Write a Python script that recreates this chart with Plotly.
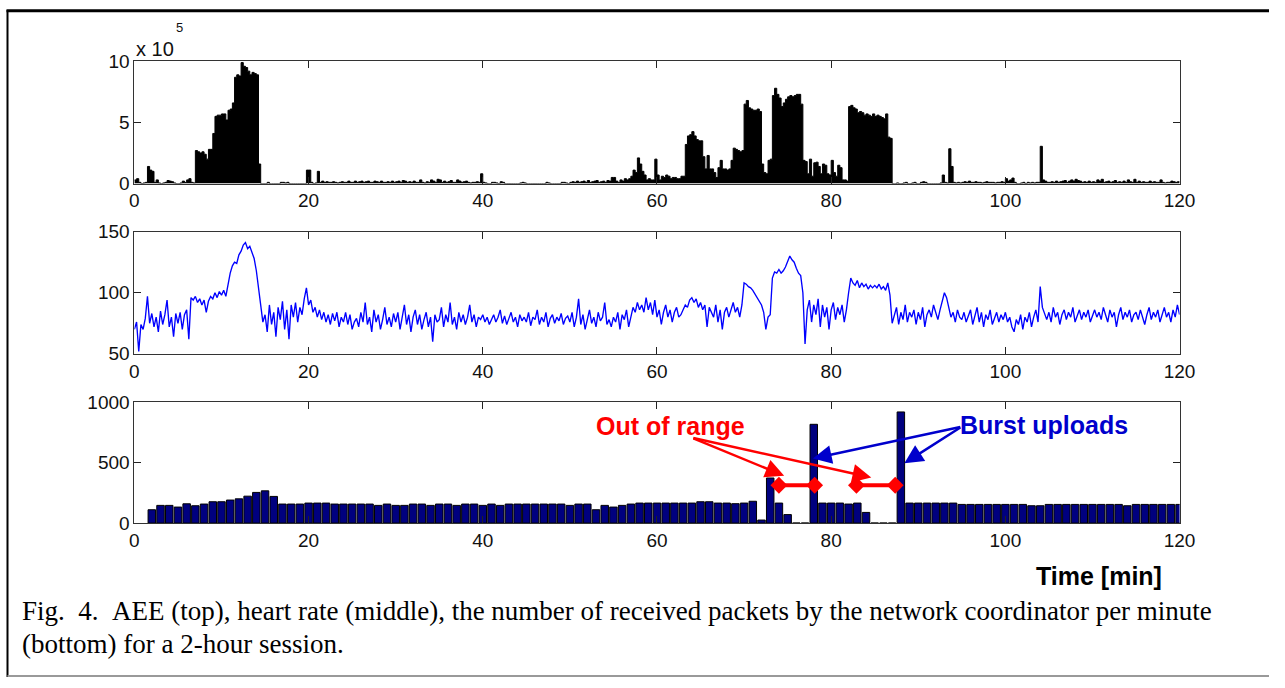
import plotly.graph_objects as go

# mapping from target picture pixels to paper fractions (calibrated from the rendered picture)
OX, OY, SW, SH = 4.5, 9.7, 1265.0, 666.0

def px(x):
    return (x - OX) / SW

def py(y):
    return 1 - (y - OY) / SH

# ---------------- data ----------------
# time grid for the 15-second samples (minutes)
time_q = [i * 0.25 for i in range(480)] + [120.0]

# AEE, in units of 1e5, one value per 15 s (5-minute rows)
aee_1e5 = [
    0.3, 0.4, 0.1, 0.0, 0.05, 0.1, 1.4, 1.1, 1.0, 0.1, 0.3, 0.05, 0.0, 0.05, 0.1, 0.25, 0.2, 0.15, 0.05, 0.0,
    0.0, 0.05, 0.2, 0.1, 0.3, 0.4, 0.1, 0.05, 2.7, 2.6, 2.5, 2.6, 2.4, 2.0, 2.8, 2.8, 4.1, 5.5, 5.6, 5.6,
    5.7, 5.7, 5.2, 6.0, 6.1, 6.6, 8.7, 8.9, 8.8, 9.9, 9.6, 9.5, 9.2, 8.9, 9.1, 9.0, 8.9, 1.6, 0.0, 0.0,
    0.0, 0.1, 0.0, 0.0, 0.0, 0.0, 0.0, 0.1, 0.1, 0.05, 0.1, 0.0, 0.0, 0.0, 0.0, 0.0, 0.0, 0.0, 0.0, 1.1,
    1.1, 0.1, 0.0, 0.05, 1.0, 0.1, 0.2, 0.1, 0.15, 0.1, 0.1, 0.15, 0.1, 0.05, 0.1, 0.15, 0.1, 0.1, 0.2, 0.1,
    0.1, 0.2, 0.1, 0.15, 0.2, 0.1, 0.15, 0.2, 0.1, 0.1, 0.2, 0.15, 0.1, 0.2, 0.1, 0.1, 0.15, 0.1, 0.2, 0.1,
    0.15, 0.2, 0.1, 0.25, 0.2, 0.1, 0.15, 0.1, 0.2, 0.1, 0.1, 0.3, 0.1, 0.05, 0.15, 0.1, 0.3, 0.2, 0.1, 0.35,
    0.3, 0.1, 0.2, 0.1, 0.15, 0.25, 0.1, 0.1, 0.3, 0.2, 0.1, 0.15, 0.2, 0.1, 0.05, 0.1, 0.1, 0.15, 0.1, 0.8,
    0.1, 0.05, 0.0, 0.0, 0.1, 0.1, 0.05, 0.0, 0.15, 0.1, 0.0, 0.0, 0.0, 0.0, 0.0, 0.0, 0.0, 0.05, 0.1, 0.05,
    0.0, 0.0, 0.0, 0.0, 0.0, 0.0, 0.0, 0.0, 0.0, 0.1, 0.05, 0.0, 0.0, 0.0, 0.0, 0.0, 0.1, 0.1, 0.05, 0.0,
    0.1, 0.15, 0.1, 0.2, 0.1, 0.15, 0.2, 0.1, 0.25, 0.1, 0.15, 0.2, 0.25, 0.1, 0.15, 0.2, 0.1, 0.25, 0.2, 0.5,
    0.5, 0.2, 0.1, 0.3, 0.2, 0.4, 0.3, 0.4, 0.6, 1.1, 0.9, 2.1, 1.6, 1.0, 0.7, 0.3, 0.4, 0.3, 0.3, 2.0,
    0.7, 0.3, 0.6, 0.5, 0.7, 0.6, 0.4, 0.5, 0.5, 0.4, 0.4, 0.6, 0.6, 3.2, 3.9, 4.0, 4.25, 3.9, 3.6, 3.5,
    3.5, 2.2, 1.2, 2.3, 1.2, 1.2, 0.9, 0.5, 1.3, 1.9, 1.2, 1.2, 1.1, 1.2, 1.9, 2.9, 2.8, 2.7, 2.6, 2.7,
    6.5, 6.8, 6.2, 6.1, 6.0, 6.0, 6.1, 5.9, 1.6, 0.9, 0.8, 1.9, 2.0, 7.2, 7.8, 7.3, 7.0, 6.3, 6.6, 6.9,
    7.1, 7.2, 7.1, 7.2, 7.3, 7.3, 6.5, 1.9, 1.8, 0.8, 2.0, 0.6, 1.7, 1.75, 1.4, 0.8, 1.6, 1.5, 0.8, 0.7,
    1.9, 0.9, 0.6, 1.5, 1.3, 0.3, 0.3, 0.2, 6.3, 6.4, 6.2, 6.1, 5.8, 5.9, 5.8, 5.6, 5.7, 5.6, 5.5, 5.7,
    5.5, 5.6, 5.5, 5.4, 5.3, 5.7, 3.8, 3.7, 0.0, 0.0, 0.05, 0.0, 0.0, 0.05, 0.1, 0.0, 0.0, 0.05, 0.1, 0.0,
    0.0, 0.1, 0.15, 0.1, 0.0, 0.0, 0.0, 0.0, 0.0, 0.0, 0.05, 0.7, 0.1, 0.05, 2.85, 1.4, 0.1, 0.05, 0.1, 0.05,
    0.1, 0.15, 0.1, 0.2, 0.1, 0.1, 0.15, 0.1, 0.1, 0.05, 0.1, 0.15, 0.1, 0.1, 0.1, 0.05, 0.1, 0.1, 0.15, 0.1,
    0.4, 0.2, 0.3, 0.45, 0.1, 0.0, 0.0, 0.05, 0.1, 0.0, 0.1, 0.05, 0.1, 0.05, 0.1, 0.1, 3.05, 0.3, 0.2, 0.1,
    0.1, 0.15, 0.1, 0.2, 0.1, 0.15, 0.2, 0.25, 0.1, 0.2, 0.3, 0.2, 0.35, 0.25, 0.2, 0.1, 0.15, 0.1, 0.2, 0.1,
    0.15, 0.1, 0.3, 0.2, 0.35, 0.1, 0.15, 0.2, 0.1, 0.15, 0.25, 0.1, 0.15, 0.1, 0.2, 0.1, 0.3, 0.15, 0.1, 0.35,
    0.1, 0.2, 0.1, 0.15, 0.1, 0.1, 0.2, 0.1, 0.15, 0.1, 0.1, 0.3, 0.1, 0.05, 0.1, 0.1, 0.2, 0.15, 0.1, 0.15,
    0.15,
]

# heart rate (bpm), one value per 15 s (5-minute rows)
heart_rate = [
    70, 76, 52, 74, 70, 79, 97, 75, 83, 72, 80, 68, 85, 74, 82, 94, 72, 80, 64, 83,
    75, 84, 70, 82, 86, 62, 96, 94, 97, 92, 95, 90, 94, 84, 93, 97, 95, 100, 96, 101,
    98, 102, 97, 108, 116, 122, 125, 124, 131, 134, 139, 141, 136, 138, 133, 128, 118, 104, 92, 76,
    82, 68, 90, 74, 84, 64, 88, 78, 93, 70, 86, 62, 90, 80, 92, 76, 88, 82, 95, 104,
    90, 94, 84, 88, 80, 86, 78, 84, 76, 82, 74, 83, 77, 84, 72, 80, 76, 84, 74, 82,
    70, 76, 79, 72, 84, 76, 92, 74, 80, 68, 86, 76, 82, 70, 78, 88, 74, 80, 72, 83,
    76, 84, 70, 80, 90, 74, 82, 68, 80, 86, 74, 82, 70, 78, 84, 72, 80, 60, 82, 76,
    78, 88, 72, 82, 76, 92, 74, 80, 70, 84, 76, 82, 74, 80, 90, 76, 82, 72, 80, 78,
    82, 76, 80, 74, 78, 82, 76, 80, 86, 75, 81, 74, 79, 84, 76, 80, 72, 82, 77, 80,
    76, 84, 73, 80, 78, 86, 74, 80, 76, 84, 72, 79, 82, 75, 80, 77, 83, 74, 79, 81,
    76, 84, 72, 80, 95, 74, 82, 70, 78, 86, 75, 80, 72, 84, 77, 80, 92, 74, 78, 72,
    80, 76, 84, 70, 82, 78, 86, 72, 80, 88, 84, 92, 86, 90, 84, 96, 86, 92, 82, 94,
    80, 86, 74, 84, 90, 80, 86, 76, 84, 88, 80, 82, 86, 90, 88, 94, 96, 92, 95, 88,
    92, 86, 90, 72, 88, 84, 80, 90, 76, 86, 70, 84, 88, 80, 86, 92, 84, 88, 80, 90,
    108, 107, 105, 104, 102, 99, 97, 94, 90, 84, 70, 80, 82, 112, 117, 116, 119, 116, 118, 121,
    126, 130, 127, 125, 120, 116, 114, 100, 58, 86, 94, 76, 90, 82, 95, 72, 90, 80, 88, 70,
    86, 92, 78, 88, 82, 90, 76, 86, 100, 112, 108, 106, 110, 104, 108, 105, 107, 103, 106, 104,
    106, 104, 107, 103, 105, 102, 108, 98, 75, 82, 88, 74, 84, 78, 90, 76, 84, 80, 86, 74,
    84, 78, 88, 72, 82, 86, 80, 90, 84, 78, 86, 92, 100, 96, 88, 80, 84, 76, 86, 80,
    78, 84, 76, 82, 86, 74, 80, 88, 76, 84, 72, 82, 78, 86, 74, 80, 84, 76, 82, 78,
    84, 76, 80, 72, 68, 78, 74, 82, 70, 80, 76, 84, 72, 80, 86, 76, 105, 88, 82, 78,
    84, 76, 88, 80, 84, 74, 82, 86, 78, 84, 80, 88, 76, 82, 86, 78, 84, 80, 86, 76,
    82, 86, 80, 84, 78, 88, 82, 76, 86, 80, 84, 72, 82, 88, 78, 84, 80, 86, 76, 82,
    84, 78, 86, 80, 74, 82, 88, 78, 84, 80, 86, 76, 82, 88, 80, 84, 76, 86, 80, 90,
    82,
]

# received packets per minute
packet_minutes = list(range(2, 121))
packets = [
    110, 146, 146, 132, 159, 143, 157, 176, 176, 190,
    200, 222, 253, 266, 220, 157, 157, 157, 165, 165,
    165, 157, 157, 157, 157, 157, 146, 157, 146, 146,
    157, 157, 146, 157, 157, 146, 157, 157, 146, 157,
    146, 157, 157, 157, 157, 157, 157, 157, 146, 157,
    157, 110, 146, 132, 146, 157, 165, 165, 165, 165,
    165, 165, 165, 176, 176, 165, 165, 160, 165, 180,
    25, 372, 165, 70, 0, 0, 815, 165, 165, 165,
    157, 165, 88, 0, 0, 0, 917, 165, 165, 165,
    165, 165, 165, 154, 154, 154, 154, 154, 154, 154,
    154, 143, 143, 154, 154, 154, 154, 154, 154, 154,
    154, 154, 143, 154, 154, 154, 154, 154, 154,
]

x_ticks = [0, 20, 40, 60, 80, 100, 120]

# annotation anchors (minutes, packets)
out_of_range_spans = [(74.0, 78.1), (82.9, 87.35)]
span_level = 312
red_tail = (64.0, 704)
red_tips = [(74.6, 390), (84.6, 376)]
blue_tail = (95.0, 796)
blue_tips = [(77.9, 532), (88.4, 494)]

# ---------------- figure ----------------
fig = go.Figure()

fig.add_trace(go.Scatter(
    x=time_q, y=aee_1e5, mode="lines", line=dict(color="black", width=1, shape="hv"),
    fill="tozeroy", fillcolor="black", xaxis="x", yaxis="y", showlegend=False, hoverinfo="skip"))

fig.add_trace(go.Scatter(
    x=time_q, y=heart_rate, mode="lines", line=dict(color="#0000ff", width=1.35),
    xaxis="x2", yaxis="y2", showlegend=False, hoverinfo="skip"))

fig.add_trace(go.Bar(
    x=packet_minutes, y=packets, width=0.86,
    marker=dict(color="#00007f", line=dict(color="black", width=1)),
    xaxis="x3", yaxis="y3", showlegend=False, hoverinfo="skip"))

for a, b in out_of_range_spans:
    fig.add_trace(go.Scatter(
        x=[a, b], y=[span_level, span_level], mode="lines+markers",
        line=dict(color="#ff0000", width=4),
        marker=dict(symbol="diamond", size=13, color="#ff0000"),
        xaxis="x3", yaxis="y3", showlegend=False, hoverinfo="skip"))

tickfont = dict(family="Liberation Sans, Arial, sans-serif", size=19, color="#111")
xdom = [px(134), px(1180)]

def xaxis(anchor):
    return dict(domain=xdom, anchor=anchor, range=[0, 120], tickvals=x_ticks,
                ticks="inside", ticklen=7, tickcolor="#222", tickwidth=1,
                showline=True, linecolor="#333", linewidth=1, mirror="ticks",
                showgrid=False, zeroline=False, tickfont=tickfont, fixedrange=True)

def yaxis(anchor, dom, rng, tv):
    return dict(domain=dom, anchor=anchor, range=rng, tickvals=tv,
                ticks="inside", ticklen=7, tickcolor="#222", tickwidth=1,
                showline=True, linecolor="#333", linewidth=1, mirror="ticks",
                showgrid=False, zeroline=False, tickfont=tickfont, fixedrange=True)

fig.update_layout(
    autosize=True, margin=dict(l=0, r=0, t=0, b=0, pad=0),
    paper_bgcolor="white", plot_bgcolor="white",
    bargap=0,
    xaxis=xaxis("y"),
    xaxis2=xaxis("y2"),
    xaxis3=xaxis("y3"),
    yaxis=yaxis("x", [py(183), py(61)], [0, 10], [0, 5, 10]),
    yaxis2=yaxis("x2", [py(353), py(231)], [50, 150], [50, 100, 150]),
    yaxis3=yaxis("x3", [py(522), py(401)], [0, 1000], [0, 500, 1000]),
)

annotations = []
# exponent label
annotations.append(dict(text="x\u00a010", x=px(134), y=py(49), xref="paper", yref="paper",
                        xanchor="left", yanchor="middle", showarrow=False,
                        font=dict(family=tickfont["family"], size=20, color="#111")))
annotations.append(dict(text="5", x=px(174), y=py(27), xref="paper", yref="paper",
                        xanchor="left", yanchor="middle", showarrow=False,
                        font=dict(family=tickfont["family"], size=13, color="#111")))

bold = "Liberation Sans, Arial, sans-serif"
annotations.append(dict(text="<b>Out of range</b>", x=61.6, y=803, xref="x3", yref="y3",
                        xanchor="center", yanchor="middle",
                        showarrow=False, font=dict(family=bold, size=25, color="#ff0000")))
annotations.append(dict(text="<b>Burst uploads</b>", x=104.4, y=811, xref="x3", yref="y3",
                        xanchor="center", yanchor="middle",
                        showarrow=False, font=dict(family=bold, size=25, color="#0000cc")))
for tx, ty in red_tips:
    annotations.append(dict(x=tx, y=ty, ax=red_tail[0], ay=red_tail[1], xref="x3", yref="y3",
                            axref="x3", ayref="y3", text="", showarrow=True, arrowhead=2,
                            arrowsize=1.5, arrowwidth=2.5, arrowcolor="#ff0000"))
for tx, ty in blue_tips:
    annotations.append(dict(x=tx, y=ty, ax=blue_tail[0], ay=blue_tail[1], xref="x3", yref="y3",
                            axref="x3", ayref="y3", text="", showarrow=True, arrowhead=2,
                            arrowsize=1.5, arrowwidth=2.5, arrowcolor="#0000cc"))

annotations.append(dict(text="<b>Time [min]</b>", x=px(1099), y=py(575), xref="paper", yref="paper",
                        xanchor="center", yanchor="middle",
                        showarrow=False, font=dict(family=bold, size=25, color="black")))

serif = "Liberation Serif, Times New Roman, serif"
annotations.append(dict(
    text="Fig.\u00a0\u00a04.\u00a0\u00a0AEE (top), heart rate (middle), the number of received packets by the network coordinator per minute",
    x=px(20), y=py(610), xref="paper", yref="paper", xanchor="left", yanchor="middle",
    showarrow=False, font=dict(family=serif, size=27, color="black")))
annotations.append(dict(
    text="(bottom) for a 2-hour session.",
    x=px(20), y=py(643), xref="paper", yref="paper", xanchor="left", yanchor="middle",
    showarrow=False, font=dict(family=serif, size=27, color="black")))

fig.update_layout(annotations=annotations)

shapes = [
    dict(type="line", xref="paper", yref="paper", x0=px(6), x1=1, y0=0.999, y1=0.999,
         line=dict(color="black", width=3)),
    dict(type="line", xref="paper", yref="paper", x0=px(7), x1=px(7), y0=0, y1=1,
         line=dict(color="black", width=2)),
    dict(type="line", xref="paper", yref="paper", x0=px(7), x1=1, y0=0.0015, y1=0.0015,
         line=dict(color="#999", width=2)),
]
fig.update_layout(shapes=shapes)

fig.write_html("out.html", config={"displayModeBar": False, "staticPlot": True},
               default_width="1285px",
               default_height="688px; position:absolute; top:0; left:0")
